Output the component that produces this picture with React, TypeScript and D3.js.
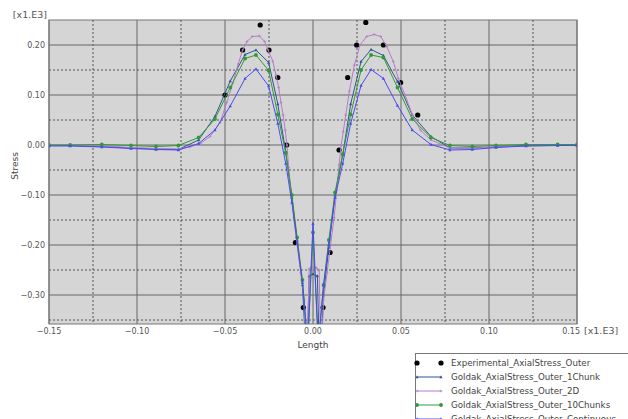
import React from "react";
import * as d3 from "d3";

// ---------- data ----------
const expX = [-0.050, -0.040, -0.030, -0.025, -0.020, -0.015, -0.010, -0.0055, 0.0057, 0.0097, 0.0148, 0.0197, 0.0248, 0.030, 0.040, 0.0498, 0.0595];
const expY = [0.10, 0.19, 0.24, 0.19, 0.135, 0.0, -0.195, -0.325, -0.325, -0.215, -0.01, 0.135, 0.20, 0.245, 0.20, 0.125, 0.06];

const spikeX = [-0.15, -0.138, -0.12, -0.1034, -0.0892, -0.0765, -0.065, -0.0557, -0.047, -0.0386, -0.0324, -0.0252, -0.020, -0.0155, -0.012, -0.009, -0.006, -0.003, 0, 0.003, 0.006, 0.009, 0.0125, 0.0169, 0.0214, 0.0273, 0.033, 0.040, 0.048, 0.0564, 0.067, 0.0778, 0.0905, 0.104, 0.121, 0.139, 0.15];
const continuousY = [-0.002, -0.002, -0.004, -0.007, -0.009, -0.010, 0.003, 0.030, 0.078, 0.133, 0.152, 0.118, 0.043, -0.037, -0.115, -0.195, -0.275, -0.40, -0.157, -0.40, -0.28, -0.20, -0.105, -0.037, 0.043, 0.119, 0.151, 0.133, 0.079, 0.030, 0.001, -0.010, -0.009, -0.005, -0.002, -0.001, -0.001];
const tenChunksY = [0.000, 0.000, 0.001, -0.001, -0.003, -0.001, 0.015, 0.052, 0.115, 0.173, 0.180, 0.149, 0.061, -0.016, -0.10, -0.185, -0.27, -0.40, -0.175, -0.40, -0.28, -0.19, -0.095, -0.018, 0.061, 0.150, 0.180, 0.175, 0.115, 0.052, 0.015, -0.001, -0.003, -0.001, 0.001, 0.001, 0.001];

const oneChunkX = [-0.15, -0.138, -0.12, -0.1034, -0.0892, -0.0765, -0.065, -0.0557, -0.047, -0.0386, -0.0324, -0.0252, -0.020, -0.0155, -0.012, -0.009, -0.006, -0.0035, -0.0022, 0, 0.0025, 0.0038, 0.006, 0.009, 0.0125, 0.0169, 0.0214, 0.0273, 0.033, 0.040, 0.048, 0.0564, 0.067, 0.0778, 0.0905, 0.104, 0.121, 0.139, 0.15];
const oneChunkY = [-0.001, -0.001, -0.003, -0.006, -0.008, -0.009, 0.010, 0.057, 0.128, 0.181, 0.190, 0.165, 0.082, -0.013, -0.105, -0.19, -0.28, -0.45, -0.262, -0.258, -0.262, -0.45, -0.30, -0.205, -0.10, -0.02, 0.082, 0.167, 0.191, 0.179, 0.127, 0.060, 0.017, -0.006, -0.006, -0.004, -0.001, 0.000, 0.000];

const twoDX = [-0.15, -0.138, -0.12, -0.1034, -0.0892, -0.0765, -0.070, -0.064, -0.0585, -0.0528, -0.049, -0.0455, -0.0425, -0.040, -0.0375, -0.0345, -0.0305, -0.0275, -0.0255, -0.0229, -0.021, -0.0195, -0.0182, -0.017, -0.0158, -0.0148, -0.0138, -0.0125, -0.011, -0.009, -0.007, -0.005, -0.0035, -0.0022, -0.001, 0.0005, 0.002, 0.0035, 0.0045, 0.006, 0.008, 0.010, 0.012, 0.0135, 0.0148, 0.016, 0.0172, 0.0186, 0.0207, 0.0235, 0.0267, 0.0305, 0.0347, 0.0385, 0.0419, 0.0456, 0.0485, 0.0523, 0.0565, 0.061, 0.067, 0.0778, 0.0905, 0.104, 0.121, 0.139, 0.15];
const twoDY = [-0.001, 0.000, -0.002, -0.005, -0.007, -0.008, -0.004, 0.003, 0.017, 0.045, 0.085, 0.124, 0.162, 0.19, 0.207, 0.217, 0.218, 0.207, 0.19, 0.168, 0.14, 0.115, 0.085, 0.06, 0.03, 0.0, -0.045, -0.095, -0.145, -0.20, -0.255, -0.31, -0.45, -0.248, -0.245, -0.244, -0.246, -0.25, -0.45, -0.31, -0.255, -0.20, -0.145, -0.09, -0.04, 0.0, 0.027, 0.06, 0.108, 0.16, 0.20, 0.217, 0.221, 0.217, 0.197, 0.167, 0.133, 0.10, 0.06, 0.03, 0.01, -0.006, -0.006, -0.004, -0.002, -0.001, -0.001];

const xMajorTicks = [-0.15, -0.10, -0.05, 0.0, 0.05, 0.10, 0.15];
const xMinorTicks = [-0.125, -0.075, -0.025, 0.025, 0.075, 0.125];
const yMajorTicks = [-0.30, -0.20, -0.10, 0.0, 0.10, 0.20];
const yMinorTicks = [-0.35, -0.25, -0.15, -0.05, 0.05, 0.15];

const seriesNames = [
  "Experimental_AxialStress_Outer",
  "Goldak_AxialStress_Outer_1Chunk",
  "Goldak_AxialStress_Outer_2D",
  "Goldak_AxialStress_Outer_10Chunks",
  "Goldak_AxialStress_Outer_Continuous",
];
const seriesColors = ["#000000", "#2f5590", "#b57cc9", "#2e9b34", "#4a4af2"];

// ---------- layout ----------
const W = 628, H = 419;
const L = 49, R = 577, T = 20, B = 324;

type Shape = "dot" | "tri" | "plus" | "sq";

function Marker({ x, y, shape, color }: { x: number; y: number; shape: Shape; color: string }) {
  if (shape === "dot") return <circle cx={x} cy={y} r={2.6} fill={color} />;
  if (shape === "sq") return <circle cx={x} cy={y} r={1.9} fill={color} />;
  if (shape === "tri")
    return <path d={`M${x},${y - 1.8}L${x + 1.6},${y + 1.2}L${x - 1.6},${y + 1.2}Z`} fill={color} />;
  return <path d={`M${x - 1.3},${y}H${x + 1.3}M${x},${y - 1.3}V${y + 1.3}`} stroke={color} strokeWidth={0.8} />;
}

export default function App() {
  const x = d3.scaleLinear().domain([-0.15, 0.15]).range([L, R]);
  const y = d3.scaleLinear().domain([-0.358, 0.25]).range([B, T]);
  const line = d3.line<[number, number]>().x((d) => x(d[0])).y((d) => y(d[1]));

  const zip = (a: number[], b: number[]) => a.map((v, i) => [v, b[i]] as [number, number]);
  const lineSeries: { pts: [number, number][]; color: string; shape: Shape; w: number }[] = [
    { pts: zip(oneChunkX, oneChunkY), color: seriesColors[1], shape: "tri", w: 1 },
    { pts: zip(twoDX, twoDY), color: seriesColors[2], shape: "plus", w: 1 },
    { pts: zip(spikeX, tenChunksY), color: seriesColors[3], shape: "sq", w: 1 },
    { pts: zip(spikeX, continuousY), color: seriesColors[4], shape: "tri", w: 1 },
  ];
  const exp = zip(expX, expY);
  const fmt = d3.format(".2f");
  const font = "DejaVu Sans, Verdana, sans-serif";
  const legendShapes: Shape[] = ["dot", "tri", "plus", "sq", "tri"];
  const lastX = xMajorTicks[xMajorTicks.length - 1];

  return (
    <svg width={W} height={H} style={{ position: "absolute", left: 0, top: 0 }} fontFamily={font}>
      <rect x={0} y={0} width={W} height={H} fill="#ffffff" />
      <defs>
        <clipPath id="plotclip">
          <rect x={L} y={T} width={R - L} height={B - T} />
        </clipPath>
      </defs>
      <rect x={L} y={T} width={R - L} height={B - T} fill="#d5d5d5" />
      {/* grid */}
      {xMinorTicks.map((t) => (
        <line key={"xm" + t} x1={x(t)} x2={x(t)} y1={T} y2={B} stroke="#555" strokeWidth={1} strokeDasharray="2,2" />
      ))}
      {yMinorTicks.map((t) => (
        <line key={"ym" + t} x1={L} x2={R} y1={y(t)} y2={y(t)} stroke="#555" strokeWidth={1} strokeDasharray="2,2" />
      ))}
      {xMajorTicks.map((t) => (
        <line key={"xM" + t} x1={x(t)} x2={x(t)} y1={T} y2={B} stroke="#666" strokeWidth={1} />
      ))}
      {yMajorTicks.map((t) => (
        <line key={"yM" + t} x1={L} x2={R} y1={y(t)} y2={y(t)} stroke="#666" strokeWidth={1} />
      ))}
      <rect x={L} y={T} width={R - L} height={B - T} fill="none" stroke="#777" strokeWidth={1} />

      {/* series */}
      <g clipPath="url(#plotclip)">
        {exp.map((d, i) => (
          <Marker key={"e" + i} x={x(d[0])} y={y(d[1])} shape="dot" color={seriesColors[0]} />
        ))}
        {lineSeries.map((s, si) => (
          <g key={"s" + si}>
            <path d={line(s.pts) || ""} fill="none" stroke={s.color} strokeWidth={s.w} />
            {s.pts.map((d, i) => (
              <Marker key={i} x={x(d[0])} y={y(d[1])} shape={s.shape} color={s.color} />
            ))}
          </g>
        ))}
      </g>

      {/* axis labels */}
      {yMajorTicks.map((t) => (
        <text key={"yl" + t} x={45} y={y(t) + 3} textAnchor="end" fontSize={8} fill="#555">
          {fmt(t)}
        </text>
      ))}
      {xMajorTicks.map((t) => (
        <text
          key={"xl" + t}
          x={t === lastX ? x(t) + 3 : x(t)}
          y={334}
          textAnchor={t === lastX ? "end" : "middle"}
          fontSize={8}
          fill="#555"
        >
          {fmt(t)}
        </text>
      ))}
      <text x={47} y={18} textAnchor="end" fontSize={9.5} fill="#555">[x1.E3]</text>
      <text x={584} y={334} fontSize={9.5} fill="#555">[x1.E3]</text>
      <text x={313} y={348} textAnchor="middle" fontSize={9} fill="#444">Length</text>
      <text transform={`translate(18,166) rotate(-90)`} textAnchor="middle" fontSize={9} fill="#444">Stress</text>

      {/* legend */}
      <rect x={415.5} y={353.5} width={220} height={80} fill="#ffffff" stroke="#777" strokeWidth={1} />
      {seriesNames.map((n, i) => {
        const ly = 363 + i * 14;
        return (
          <g key={"lg" + i}>
            {i > 0 && <line x1={417} x2={441} y1={ly} y2={ly} stroke={seriesColors[i]} strokeWidth={1} />}
            <Marker x={417} y={ly} shape={legendShapes[i]} color={seriesColors[i]} />
            <Marker x={441} y={ly} shape={legendShapes[i]} color={seriesColors[i]} />
            <text x={451} y={ly + 3} fontSize={8.7} fill="#444">{n}</text>
          </g>
        );
      })}
    </svg>
  );
}
